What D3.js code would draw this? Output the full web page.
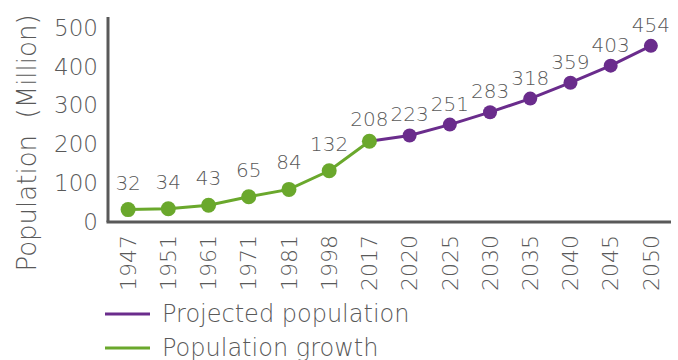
<!DOCTYPE html>
<html><head><meta charset="utf-8">
<script src="https://cdn.jsdelivr.net/npm/d3@7"></script>
<style>
body{margin:0;background:#fff;}
text{font-family:"DejaVu Sans",sans-serif;fill:#595959;font-weight:300;}
</style></head>
<body>
<svg id="c" width="678" height="360"></svg>
<script>
const years = ["1947","1951","1961","1971","1981","1998","2017","2020","2025","2030","2035","2040","2045","2050"];
const growthYears = ["1947","1951","1961","1971","1981","1998","2017"];
const growthValues = [32,34,43,65,84,132,208];
const projYears = ["2017","2020","2025","2030","2035","2040","2045","2050"];
const projValues = [208,223,251,283,318,359,403,454];
const yTicks = [0,100,200,300,400,500];
const seriesNames = ["Projected population","Population growth"];
const colors = {proj:"#6A2C8C", growth:"#6AA82C"};

const svg = d3.select("#c");
const x = d3.scaleBand().domain(years).range([108,671]).padding(0);
const y = d3.scaleLinear().domain([0,500]).range([222,28]);
const cx = d => x(d) + x.bandwidth()/2;

// y axis
const ya = svg.append("g").attr("transform","translate(108,0)")
  .call(d3.axisLeft(y).tickValues(yTicks).tickSize(0).tickPadding(10));
ya.select(".domain").remove();
ya.selectAll("text").style("font-size","23px").attr("fill","#595959").attr("font-family","DejaVu Sans").attr("font-weight",300);
svg.append("line").attr("x1",108).attr("x2",108).attr("y1",y(0)).attr("y2",17)
  .attr("stroke","#595959").attr("stroke-width",3);

// x axis
const xa = svg.append("g").attr("transform",`translate(0,${y(0)})`)
  .call(d3.axisBottom(x).tickSize(0).tickPadding(0));
xa.select(".domain").remove();
xa.selectAll("text").style("font-size","22px").attr("fill","#595959").attr("font-family","DejaVu Sans").attr("font-weight",300)
  .attr("transform","rotate(-90)").attr("text-anchor","end").attr("x",-13).attr("y",0).attr("dy","0.35em");
svg.append("line").attr("x1",106.5).attr("x2",671).attr("y1",y(0)).attr("y2",y(0))
  .attr("stroke","#595959").attr("stroke-width",3);

// y title
svg.append("text").attr("transform","translate(36,143) rotate(-90)").attr("text-anchor","middle")
  .style("font-size","26px").text("Population\u00a0\u00a0(Million)");

const line = d3.line().x(d=>cx(d[0])).y(d=>y(d[1]));
const proj = projYears.map((d,i)=>[d,projValues[i]]);
const grow = growthYears.map((d,i)=>[d,growthValues[i]]);

svg.append("path").datum(proj).attr("d",line).attr("fill","none").attr("stroke",colors.proj).attr("stroke-width",3);
svg.append("path").datum(grow).attr("d",line).attr("fill","none").attr("stroke",colors.growth).attr("stroke-width",3);

svg.selectAll(".pm").data(proj.slice(1)).enter().append("circle")
  .attr("cx",d=>cx(d[0])).attr("cy",d=>y(d[1])).attr("r",7).attr("fill",colors.proj);
svg.selectAll(".gm").data(grow).enter().append("circle")
  .attr("cx",d=>cx(d[0])).attr("cy",d=>y(d[1])).attr("r",7.5).attr("fill",colors.growth);

// labels
svg.selectAll(".pl").data(proj.slice(1)).enter().append("text")
  .attr("x",d=>cx(d[0])).attr("y",d=>y(d[1])-14).attr("text-anchor","middle")
  .style("font-size","20px").text(d=>d[1]);
svg.selectAll(".gl").data(grow).enter().append("text")
  .attr("x",d=>cx(d[0])).attr("y",(d,i)=>y(d[1])-(i===grow.length-1?15:20)).attr("text-anchor","middle")
  .style("font-size","20px").text(d=>d[1]);

// legend
const leg = [[seriesNames[0],colors.proj,314],[seriesNames[1],colors.growth,348]];
leg.forEach(l=>{
  svg.append("line").attr("x1",105).attr("x2",150).attr("y1",l[2]).attr("y2",l[2]).attr("stroke",l[1]).attr("stroke-width",3);
  svg.append("text").attr("x",162).attr("y",l[2]).attr("dy","0.35em").style("font-size","24px").text(l[0]);
});
</script>
</body></html>
